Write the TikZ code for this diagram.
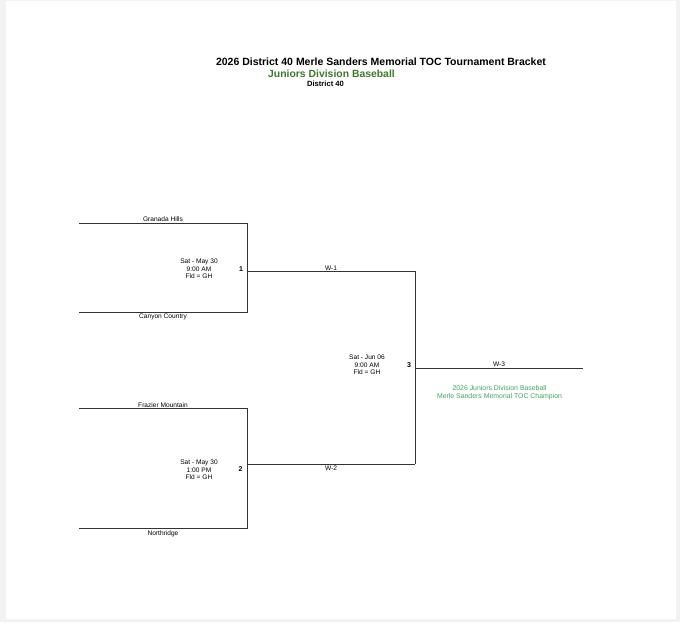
\documentclass[tikz,border=0pt]{standalone}
\usepackage{fontspec}
\setmainfont{Liberation Sans}
\definecolor{darkgreen}{HTML}{3B7A2A}
\definecolor{lightgreen}{HTML}{3DAA5C}
\definecolor{pageedge}{HTML}{F2F2F2}
\definecolor{bracketline}{HTML}{333333}
\tikzset{
  bline/.style={draw=bracketline, line width=1pt},
  small/.style={font=\fontsize{6.6}{7.8}\selectfont, inner sep=0pt, align=center},
  gamenum/.style={font=\bfseries\fontsize{7}{8}\selectfont, inner sep=0pt},
  champ/.style={font=\fontsize{6.9}{8}\selectfont, inner sep=0pt, align=center, text=lightgreen},
}
\begin{document}
\begin{tikzpicture}[x=1pt,y=-1pt]
\useasboundingbox (0,0) rectangle (680,622);
\fill[pageedge] (0,0) rectangle (680,622);
\fill[white] (6,1) rectangle (676,619);
% titles
\node[font=\bfseries\fontsize{10.5}{12}\selectfont, inner sep=0pt] (title) at (381,61.5) {2026 District 40 Merle Sanders Memorial TOC Tournament Bracket};
\node[font=\bfseries\fontsize{10.4}{12}\selectfont, inner sep=0pt, text=darkgreen] (sub) at (331.5,73.5) {Juniors Division Baseball};
\node[font=\bfseries\fontsize{7.6}{9}\selectfont, inner sep=0pt] (dist) at (325.5,84) {District 40};
% coordinates
\coordinate (t1a) at (79,223); \coordinate (t1b) at (247,223);
\coordinate (t2a) at (79,312); \coordinate (t2b) at (247,312);
\coordinate (g1) at (247,271); \coordinate (g1e) at (415,271);
\coordinate (t3a) at (79,408); \coordinate (t3b) at (247,408);
\coordinate (t4a) at (79,528); \coordinate (t4b) at (247,528);
\coordinate (g2) at (247,464); \coordinate (g2e) at (415,464);
\coordinate (g3) at (415,368); \coordinate (g3e) at (583,368);
% lines
\draw[bline] (t1a) -- (t1b) -- (t2b) -- (t2a);
\draw[bline] (g1) -- (g1e);
\draw[bline] (t3a) -- (t3b) -- (t4b) -- (t4a);
\draw[bline] (g2) -- (g2e);
\draw[bline] (g1e) -- (g2e);
\draw[bline] (g3) -- (g3e);
% team names
\node[small] (gh) at (163,219.3) {Granada Hills};
\node[small] (cc) at (163,317) {Canyon Country};
\node[small] (fm) at (163,404.8) {Frazier Mountain};
\node[small] (nr) at (163,533.5) {Northridge};
% game info
\node[small] (info1) at (199,268.8) {Sat - May 30\\9:00 AM\\Fld = GH};
\node[gamenum] (n1) at (241,269) {1};
\node[small] (w1) at (331,268.2) {W-1};
\node[small] (info2) at (199,469.8) {Sat - May 30\\1:00 PM\\Fld = GH};
\node[gamenum] (n2) at (240.5,469) {2};
\node[small] (w2) at (331,468.6) {W-2};
\node[small] (info3) at (367,364.8) {Sat - Jun 06\\9:00 AM\\Fld = GH};
\node[gamenum] (n3) at (409,365.5) {3};
\node[small] (w3) at (499,364.6) {W-3};
\node[champ] (champ) at (499.5,392.5) {2026 Juniors Division Baseball\\Merle Sanders Memorial TOC Champion};
\end{tikzpicture}
\end{document}
